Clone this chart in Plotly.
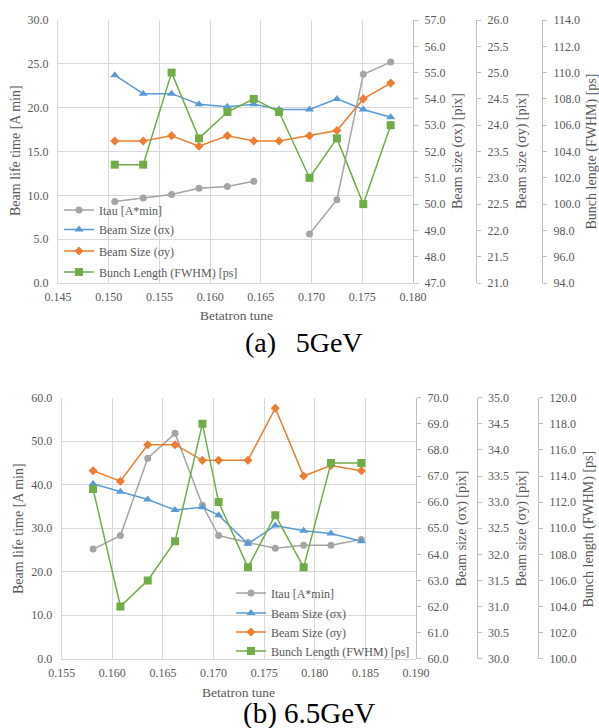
import plotly.graph_objects as go

# ---------- data: (a) 5 GeV ----------
tune_a = [0.1506, 0.1534, 0.1562, 0.1589, 0.1617, 0.1643, 0.1668, 0.1698, 0.1725, 0.1751, 0.1778]
itau_a = [9.3, 9.7, 10.1, 10.8, 11.0, 11.6, None, 5.6, 9.5, 23.8, 25.2]
sx_a = [54.9, 54.2, 54.2, 53.8, 53.7, 53.8, 53.6, 53.6, 54.0, 53.6, 53.3]
sy_a = [23.7, 23.7, 23.8, 23.6, 23.8, 23.7, 23.7, 23.8, 23.9, 24.5, 24.8]
bl_a = [103.0, 103.0, 110.0, 105.0, 107.0, 108.0, 107.0, 102.0, 105.0, 100.0, 106.0]

# ---------- data: (b) 6.5 GeV ----------
tune_b = [0.1581, 0.1608, 0.1635, 0.1662, 0.1689, 0.1705, 0.1734, 0.1761, 0.1789, 0.1816, 0.1846]
itau_b = [25.2, 28.3, 46.1, 51.8, 35.3, 28.3, 26.7, 25.4, 26.1, 26.1, 27.4]
sx_b = [66.7, 66.4, 66.1, 65.7, 65.8, 65.5, 64.4, 65.1, 64.9, 64.8, 64.5]
sy_b = [33.6, 33.4, 34.1, 34.1, 33.8, 33.8, 33.8, 34.8, 33.5, 33.7, 33.6]
bl_b = [113.0, 104.0, 106.0, 109.0, 118.0, 112.0, 107.0, 111.0, 107.0, 115.0, 115.0]

names = ["Itau [A*min]", "Beam Size (σx)", "Beam Size (σy)", "Bunch Length (FWHM) [ps]"]
colors = ["#a5a5a5", "#5b9bd5", "#ed7d31", "#70ad47"]
symbols = ["circle", "triangle-up", "diamond", "square"]
msizes = [7, 8, 7, 8]

W, H = 599, 728
FONT = "Liberation Serif, Times New Roman, serif"
TXT = "#595959"
GRID = "#d9d9d9"
AX = "#bfbfbf"


def px(x):
    return x / W


def py(y):
    return 1 - y / H


fig = go.Figure()

series_a = [itau_a, sx_a, sy_a, bl_a]
series_b = [itau_b, sx_b, sy_b, bl_b]
yaxes_a = ["y", "y2", "y3", "y4"]
yaxes_b = ["y5", "y6", "y7", "y8"]
legends_a = ["legend", "legend2", "legend3", "legend4"]
legends_b = ["legend5", "legend6", "legend7", "legend8"]

for i in range(4):
    fig.add_trace(go.Scatter(
        x=tune_a, y=series_a[i], name=names[i], mode="lines+markers",
        xaxis="x", yaxis=yaxes_a[i], connectgaps=False,
        line=dict(color=colors[i], width=1.5),
        marker=dict(symbol=symbols[i], size=msizes[i], color=colors[i]),
        legend=legends_a[i],
    ))
for i in range(4):
    fig.add_trace(go.Scatter(
        x=tune_b, y=series_b[i], name=names[i], mode="lines+markers",
        xaxis="x2", yaxis=yaxes_b[i],
        line=dict(color=colors[i], width=1.5),
        marker=dict(symbol=symbols[i], size=msizes[i], color=colors[i]),
        legend=legends_b[i],
    ))

tickfont = dict(family=FONT, size=12, color=TXT)


def xax(domain, anchor, rng):
    return dict(domain=domain, anchor=anchor, range=rng, dtick=0.005, tick0=0.145,
                tickformat=".3f", showgrid=True, gridcolor=GRID, gridwidth=1,
                showline=True, linecolor=GRID, zeroline=False, ticks="",
                ticklabelstandoff=3, tickfont=tickfont, automargin=False)


def yleft(domain, anchor, rng, dt):
    return dict(domain=domain, anchor=anchor, range=rng, dtick=dt, tickformat=".1f",
                showgrid=True, gridcolor=GRID, zeroline=False, showline=True, linecolor=GRID,
                ticks="", ticklabelstandoff=6, tickfont=tickfont, automargin=False)


def yright(over, pos, rng, dt):
    return dict(overlaying=over, anchor="free", position=pos, side="right", range=rng,
                dtick=dt, tickformat=".1f", showgrid=False, zeroline=False,
                showline=True, linecolor=AX, ticks="outside", ticklen=4, tickcolor=AX,
                ticklabelstandoff=4, tickfont=tickfont, automargin=False)


dom_a = [py(283), py(20)]
dom_b = [py(658.7), py(397.7)]

# legend rows (pixel y of each entry) and left positions
rows_a = [210, 229.5, 251, 272]
rows_b = [593, 613, 632, 651]
leg_x_a = 59
leg_x_b = 231

legend_layout = {}
for i in range(4):
    legend_layout[legends_a[i]] = dict(x=px(leg_x_a), y=py(rows_a[i]), xanchor="left",
                                       yanchor="middle", bgcolor="rgba(0,0,0,0)", borderwidth=0,
                                       font=dict(family=FONT, size=12, color=TXT))
    legend_layout[legends_b[i]] = dict(x=px(leg_x_b), y=py(rows_b[i]), xanchor="left",
                                       yanchor="middle", bgcolor="rgba(0,0,0,0)", borderwidth=0,
                                       font=dict(family=FONT, size=12, color=TXT))


def title_ann(text, x, y, angle=-90, size=14):
    return dict(text=text, x=px(x), y=py(y), xref="paper", yref="paper",
                xanchor="center", yanchor="middle", showarrow=False, textangle=angle,
                font=dict(family=FONT, size=size, color=TXT))


annotations = [
    title_ann("Beam life time [A min]", 15, 151),
    title_ann("Beam size (σx) [pix]", 458, 151),
    title_ann("Beam size (σy) [pix]", 522, 151),
    title_ann("Bunch lengte (FWHM) [ps]", 591, 151.5),
    title_ann("Betatron tune", 236, 315, angle=0, size=13.5),
    title_ann("Beam life time [A min]", 18, 529),
    title_ann("Beam size (σx) [pix]", 461.5, 529),
    title_ann("Beam size (σy) [pix]", 521.5, 529),
    title_ann("Bunch length (FWHM) [ps]", 588.5, 529),
    title_ann("Betatron tune", 238.5, 692, angle=0, size=13.5),
    dict(text="(a)\u00a0\u2009\u00a05GeV", x=px(242.7), y=py(342), xref="paper", yref="paper",
         xanchor="left", yanchor="middle", showarrow=False,
         font=dict(family=FONT, size=28, color="black")),
    dict(text="(b) 6.5GeV", x=px(241.7), y=py(713), xref="paper", yref="paper",
         xanchor="left", yanchor="middle", showarrow=False, borderpad=0,
         font=dict(family=FONT, size=29, color="black")),
]

fig.update_layout(
    width=W, height=H, margin=dict(l=0, r=0, t=0, b=0, pad=0, autoexpand=False),
    paper_bgcolor="white", plot_bgcolor="white",
    font=dict(family=FONT, color=TXT),
    xaxis=xax([px(58), px(413)], "y", [0.145, 0.180]),
    yaxis=yleft(dom_a, "x", [0, 30], 5),
    yaxis2=yright("y", px(413), [47, 57], 1),
    yaxis3=yright("y", px(476), [21, 26], 0.5),
    yaxis4=yright("y", px(542), [94, 114], 2),
    xaxis2=xax([px(61.7), px(416)], "y5", [0.155, 0.190]),
    yaxis5=yleft(dom_b, "x2", [0, 60], 10),
    yaxis6=yright("y5", px(416), [60, 70], 1),
    yaxis7=yright("y5", px(476.7), [30, 35], 0.5),
    yaxis8=yright("y5", px(538), [100, 120], 2),
    showlegend=True,
    annotations=annotations,
    **legend_layout,
)

fig.write_html(
    "out.html",
    config={"displayModeBar": False},
    post_script="document.body.style.margin='0';document.body.style.padding='0';"
                "document.body.style.overflow='hidden';",
)
